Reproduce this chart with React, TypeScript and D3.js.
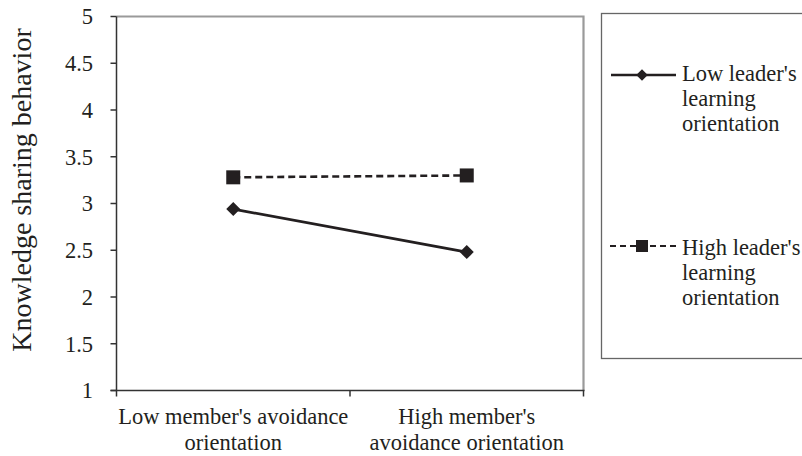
import React from "react";
import * as d3 from "d3";

const categories = [
  ["Low member's avoidance", "orientation"],
  ["High member's", "avoidance orientation"],
];
const lowLeader = [2.94, 2.48];
const highLeader = [3.28, 3.3];
const yTicks = [1, 1.5, 2, 2.5, 3, 3.5, 4, 4.5, 5];
const legendLabels = [
  ["Low leader's", "learning", "orientation"],
  ["High leader's", "learning", "orientation"],
];

const W = 802;
const H = 456;
const L = 116.5;
const R = 583.5;
const T = 16.5;
const B = 390.5;
const FONT = "'Liberation Serif', 'Times New Roman', serif";
const INK = "#231f20";
const ts = { fontFamily: FONT };

export default function App() {
  const y = d3.scaleLinear().domain([1, 5]).range([B, T]);
  const x = d3.scaleBand().domain(["0", "1"]).range([L, R]);
  const cx = (i: number) => (x(String(i)) as number) + x.bandwidth() / 2;
  const line = d3
    .line<number>()
    .x((_, i) => cx(i))
    .y((d) => y(d));
  const diamond = d3.symbol().type(d3.symbolDiamond2).size(125);
  const legY = [75, 246];
  const legBase = [81, 255];

  return (
    <svg
      width={W}
      height={H}
      style={{ position: "absolute", left: 0, top: 0, background: "#fff", fontFamily: FONT }}
    >
      <path d={`M${L},${T}H${R}V${B}`} fill="none" stroke="#9a9a9a" strokeWidth={2.2} />
      <line x1={L} x2={L} y1={T} y2={B} stroke="#333" strokeWidth={1.5} />
      <line x1={L - 6} x2={R + 1} y1={B} y2={B} stroke="#333" strokeWidth={1.5} />
      {yTicks.map((t) => (
        <g key={t}>
          <line x1={L - 6} x2={L} y1={y(t)} y2={y(t)} stroke="#333" strokeWidth={1.5} />
          <text x={93} y={y(t)} dy="0.35em" textAnchor="end" fontSize={22.5} fill={INK} style={ts}>
            {t}
          </text>
        </g>
      ))}
      {[L, (L + R) / 2, R].map((v, i) => (
        <line key={i} x1={v} x2={v} y1={B} y2={B + 6} stroke="#333" strokeWidth={1.5} />
      ))}
      {categories.map((c, i) => (
        <text key={i} textAnchor="middle" fontSize={22.5} fill={INK} style={ts}>
          <tspan x={cx(i)} y={424}>
            {c[0]}
          </tspan>
          <tspan x={cx(i)} y={450}>
            {c[1]}
          </tspan>
        </text>
      ))}
      <text
        transform={`translate(31,190) rotate(-90)`}
        textAnchor="middle"
        fontSize={28}
        fill={INK}
        style={ts}
      >
        Knowledge sharing behavior
      </text>

      <path d={line(highLeader) as string} fill="none" stroke={INK} strokeWidth={2.6} strokeDasharray="7,4" />
      <path d={line(lowLeader) as string} fill="none" stroke={INK} strokeWidth={2.8} />
      {highLeader.map((v, i) => (
        <rect key={i} x={cx(i) - 7} y={y(v) - 7} width={14} height={14} fill={INK} />
      ))}
      {lowLeader.map((v, i) => (
        <path key={i} d={diamond() as string} transform={`translate(${cx(i)},${y(v)})`} fill={INK} />
      ))}

      <rect x={601.5} y={13.5} width={210} height={345} fill="none" stroke="#666" strokeWidth={1.3} />
      <line x1={611} x2={676} y1={legY[0]} y2={legY[0]} stroke={INK} strokeWidth={2.4} />
      <path
        d={d3.symbol().type(d3.symbolDiamond2).size(85)() as string}
        transform={`translate(642,${legY[0]})`}
        fill={INK}
      />
      <line x1={610} x2={676} y1={legY[1]} y2={legY[1]} stroke={INK} strokeWidth={2.2} strokeDasharray="6,4" />
      <rect x={636} y={legY[1] - 6} width={12} height={12} fill={INK} />
      {legendLabels.map((lab, k) => (
        <text key={k} fontSize={22.5} fill={INK} style={ts}>
          {lab.map((s, j) => (
            <tspan key={j} x={682} y={legBase[k] + j * 24.8}>
              {s}
            </tspan>
          ))}
        </text>
      ))}
    </svg>
  );
}
